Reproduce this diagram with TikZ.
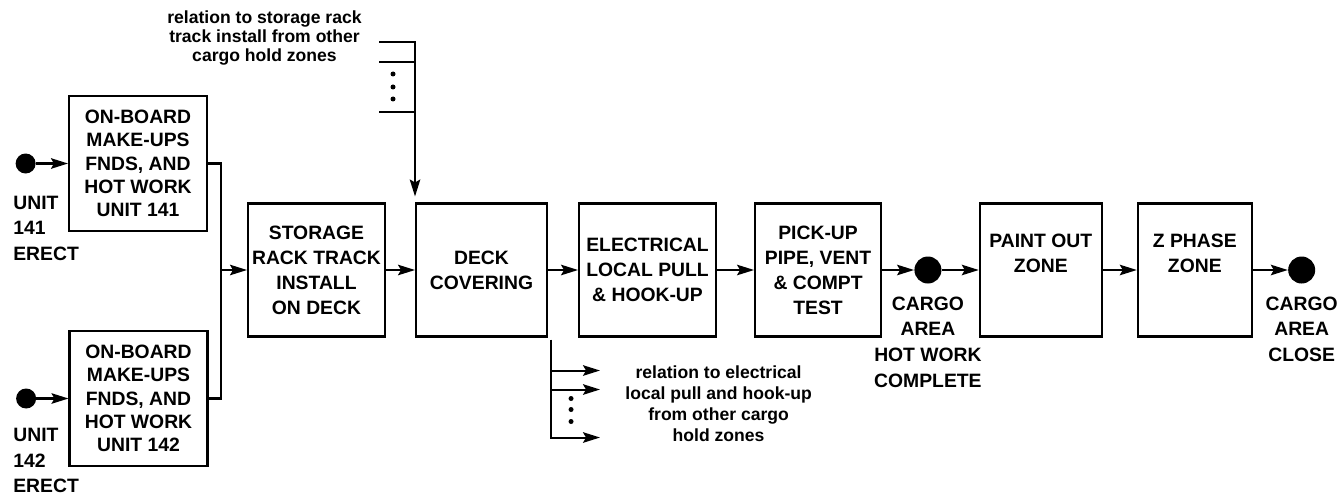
\documentclass[tikz,border=0pt]{standalone}
\usepackage{fontspec}
\setmainfont{Liberation Sans}
\usetikzlibrary{positioning,arrows.meta,calc}
\tikzset{
  flow/.style={-{Stealth[length=3.4mm,width=2.1mm,inset=0.6mm]},line width=1.15pt},
  wire/.style={line width=1.15pt},
  procbox/.style={draw,line width=1.15pt,minimum width=2.74cm,minimum height=2.66cm,
    inner sep=0pt,align=center,font=\bfseries\fontsize{11}{14.2}\selectfont},
  unitbox/.style={procbox,minimum width=2.76cm,minimum height=2.70cm,
    font=\bfseries\fontsize{11}{13.3}\selectfont},
  milestone/.style={circle,fill,inner sep=0pt,minimum size=0.54cm},
  unitdot/.style={circle,fill,inner sep=0pt,minimum size=0.40cm},
  tag/.style={inner sep=0pt,font=\bfseries\fontsize{11}{14.6}\selectfont},
  note/.style={inner sep=0pt,align=center,font=\bfseries\fontsize{10}{12}\selectfont}
}

\begin{document}
\begin{tikzpicture}
  \useasboundingbox (0,0) rectangle (26.82,-10.04);
  \node[unitbox] (unit141) at (2.76,-3.27) {ON-BOARD\\MAKE-UPS\\FNDS, AND\\HOT WORK\\UNIT 141};
  \node[unitbox] (unit142) at (2.77,-7.97) {ON-BOARD\\MAKE-UPS\\FNDS, AND\\HOT WORK\\UNIT 142};
  \node[unitdot,left=0.64cm of unit141] (erect141) {};
  \node[unitdot,left=0.64cm of unit142] (erect142) {};
  \node[tag,anchor=north west,align=left] (lbl141) at (0.26,-3.91) {UNIT\\141\\ERECT};
  \node[tag,anchor=north west,align=left] (lbl142) at (0.26,-8.56) {UNIT\\142\\ERECT};
  \draw[flow] (erect141) -- (unit141);
  \draw[flow] (erect142) -- (unit142);

  \node[procbox] (storage) at (6.33,-5.40) {STORAGE\\RACK TRACK\\INSTALL\\ON DECK};
  \node[procbox,minimum width=2.62cm,right=0.58cm of storage] (deck) {DECK\\COVERING};
  \node[procbox,right=0.60cm of deck] (elec) {ELECTRICAL\\LOCAL PULL\\\& HOOK-UP};
  \node[procbox,minimum width=2.52cm,right=0.74cm of elec] (pickup) {PICK-UP\\PIPE, VENT\\\& COMPT\\TEST};
  \node[milestone,right=0.64cm of pickup] (hotwork) {};
  \node[procbox,minimum width=2.44cm,right=0.74cm of hotwork] (paint) {PAINT OUT\\ZONE\\[5pt]\mbox{}};
  \node[procbox,minimum width=2.28cm,right=0.68cm of paint] (zphase) {Z PHASE\\ZONE\\[5pt]\mbox{}};
  \node[milestone,right=0.70cm of zphase] (close) {};
  \node[tag,align=center,below=0.25cm of hotwork] (hotlbl) {CARGO\\AREA\\HOT WORK\\COMPLETE};
  \node[tag,align=center,below=0.25cm of close] (closelbl) {CARGO\\AREA\\CLOSE};

  \coordinate (merge) at ($(storage.west)+(-0.52,0)$);
  \draw[wire] (unit141.east) -| (merge);
  \draw[wire] (unit142.east) -| (merge);
  \draw[flow] (merge) -- (storage);
  \draw[flow] (storage) -- (deck);
  \draw[flow] (deck) -- (elec);
  \draw[flow] (elec) -- (pickup);
  \draw[flow] (pickup) -- (hotwork);
  \draw[flow] (hotwork) -- (paint);
  \draw[flow] (paint) -- (zphase);
  \draw[flow] (zphase) -- (close);

  % other cargo hold zones feeding the deck covering
  \coordinate (rkin1) at ($(deck.north west)+(-0.72,3.21)$);
  \coordinate (rkin2) at ($(deck.north west)+(-0.72,2.81)$);
  \coordinate (rkin3) at ($(deck.north west)+(-0.72,1.81)$);
  \draw[flow,shorten >=0.12cm] (rkin1) -| (deck.north west);
  \draw[wire] (rkin2) -- (rkin2 -| deck.north west);
  \draw[wire] (rkin3) -- (rkin3 -| deck.north west);
  \foreach \d in {0.64,0.90,1.14}
    \fill ($(rkin1)+(0.28,-\d)$) circle (0.05);
  \node[note,anchor=east,font=\bfseries\fontsize{10}{11}\selectfont] (rknote)
    at ($(rkin1)+(-0.34,0.08)$) {relation to storage rack\\track install from other\\cargo hold zones};

  % deck covering feeding other cargo hold zones
  \coordinate (elsrc) at ($(deck.south east)+(0.06,-0.04)$);
  \coordinate (elout1) at ($(elsrc)+(0.98,-0.62)$);
  \coordinate (elout2) at ($(elsrc)+(0.98,-1.00)$);
  \coordinate (elout3) at ($(elsrc)+(0.98,-1.96)$);
  \draw[flow] (elsrc) |- (elout3);
  \draw[flow] (elsrc |- elout1) -- (elout1);
  \draw[flow] (elsrc |- elout2) -- (elout2);
  \foreach \d in {1.18,1.40,1.64}
    \fill ($(elsrc)+(0.40,-\d)$) circle (0.05);
  \node[note,anchor=west] (elnote) at ($(elout1)!0.5!(elout3)+(0.50,0)$)
    {relation to electrical\\local pull and hook-up\\from other cargo\\hold zones};
\end{tikzpicture}
\end{document}
